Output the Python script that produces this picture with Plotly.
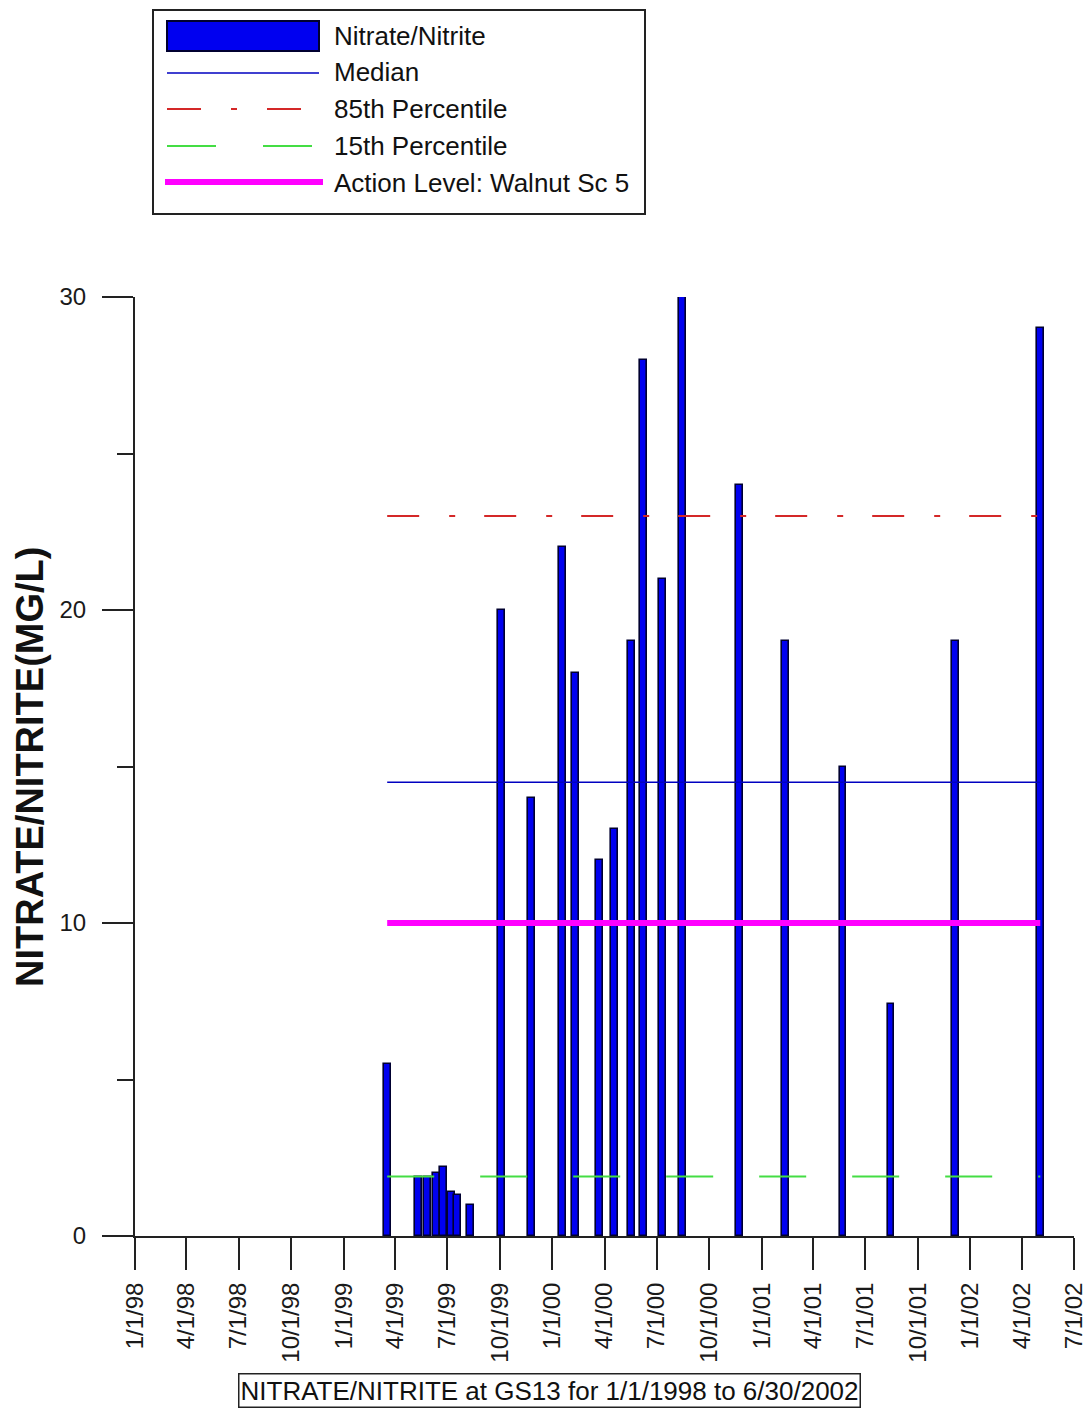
import plotly.graph_objects as go
import pandas as pd

# ---------------- data ----------------
sample_dates = ["1999-03-18", "1999-05-11", "1999-05-27", "1999-06-12", "1999-06-24",
                "1999-07-08", "1999-07-19", "1999-08-10", "1999-10-04", "1999-11-25",
                "2000-01-18", "2000-02-10", "2000-03-23", "2000-04-18", "2000-05-18",
                "2000-06-08", "2000-07-11", "2000-08-15", "2000-11-23", "2001-02-12",
                "2001-05-23", "2001-08-15", "2001-12-06", "2002-05-03"]
nitrate_values = [5.5, 1.9, 1.9, 2.0, 2.2, 1.4, 1.3, 1.0, 20, 14, 22, 18, 12, 13,
                  19, 28, 21, 30, 24, 19, 15, 7.4, 19, 29]
median_value = 14.5
p85_value = 23.0
p15_value = 1.9
action_level = 10.0

tick_labels = ["1/1/98", "4/1/98", "7/1/98", "10/1/98", "1/1/99", "4/1/99", "7/1/99",
               "10/1/99", "1/1/00", "4/1/00", "7/1/00", "10/1/00", "1/1/01", "4/1/01",
               "7/1/01", "10/1/01", "1/1/02", "4/1/02", "7/1/02"]
y_ticks = [0, 10, 20, 30]

legend_names = ["Nitrate/Nitrite", "Median", "85th Percentile", "15th Percentile",
                "Action Level: Walnut Sc 5"]
y_title = "NITRATE/NITRITE(MG/L)"
bottom_title = "NITRATE/NITRITE at GS13 for 1/1/1998 to 6/30/2002"

# ---------------- figure ----------------
FONT = "Liberation Sans, Arial, sans-serif"
W_FIG, H_FIG = 1088, 1408
PL, PR, PT, PB = 135, 1074, 297, 1236


def px(x):
    return (x - PL) / (PR - PL)


def py(y):
    return (PB - y) / (PB - PT)


dates = pd.to_datetime(sample_dates)
tick_vals = pd.to_datetime(tick_labels, format="%m/%d/%y")
span = [dates.min(), dates.max()]
bar_width_ms = 12 * 24 * 3600 * 1000

fig = go.Figure()
fig.add_trace(go.Bar(x=dates, y=nitrate_values, width=bar_width_ms,
                     marker=dict(color="#0000F0", line=dict(color="#000030", width=1.6)),
                     name=legend_names[0], showlegend=False))
fig.add_trace(go.Scatter(x=span, y=[median_value] * 2, mode="lines",
                         line=dict(color="#0000C0", width=1.5),
                         name=legend_names[1], showlegend=False))
fig.add_trace(go.Scatter(x=span, y=[p85_value] * 2, mode="lines",
                         line=dict(color="#D42828", width=2, dash="32px,30px,6px,29px"),
                         name=legend_names[2], showlegend=False))
fig.add_trace(go.Scatter(x=span, y=[p15_value] * 2, mode="lines",
                         line=dict(color="#44DD44", width=2, dash="47px,46px"),
                         name=legend_names[3], showlegend=False))
fig.add_trace(go.Scatter(x=span, y=[action_level] * 2, mode="lines",
                         line=dict(color="#FF00FF", width=6),
                         name=legend_names[4], showlegend=False))

fig.update_layout(
    width=W_FIG, height=H_FIG,
    margin=dict(l=PL, r=W_FIG - PR, t=PT, b=H_FIG - PB, pad=0, autoexpand=False),
    paper_bgcolor="white", plot_bgcolor="white",
    font=dict(family=FONT, size=24, color="#1a1a1a"),
    showlegend=False,
    bargap=0,
)
fig.update_xaxes(
    type="date", range=[tick_vals[0], tick_vals[-1]], automargin=False,
    tickmode="array", tickvals=tick_vals, ticktext=tick_labels,
    tickangle=-90, ticks="outside", ticklen=32, tickwidth=2, tickcolor="#222",
    ticklabelstandoff=3,
    showline=True, linecolor="#222", linewidth=2, showgrid=False, zeroline=False,
    tickfont=dict(size=24, family=FONT),
)
fig.update_yaxes(
    range=[0, 30], tickmode="array", tickvals=y_ticks, automargin=False,
    ticks="outside", ticklen=31, tickwidth=2, tickcolor="#222",
    ticklabelstandoff=11,
    minor=dict(dtick=5, ticks="outside", ticklen=16, tickwidth=2, tickcolor="#222"),
    showline=True, linecolor="#222", linewidth=2, showgrid=False, zeroline=False,
    tickfont=dict(size=24, family=FONT),
)

# y-axis title
fig.add_annotation(text="<b>" + y_title + "</b>", xref="paper", yref="paper",
                   x=px(30), y=py(767),
                   xanchor="center", yanchor="middle", textangle=-90, showarrow=False,
                   font=dict(size=38, family=FONT, color="#111"))
# bottom title box
fig.add_annotation(text=bottom_title, xref="paper", yref="paper", x=px(549), y=py(1390),
                   xanchor="center", yanchor="middle", showarrow=False,
                   bordercolor="#222", borderwidth=1.5, borderpad=1, bgcolor="white",
                   font=dict(size=26, family=FONT, color="#111"))

# ---------------- manual legend ----------------
shapes = []
shapes.append(dict(type="rect", xref="paper", yref="paper", x0=px(153), x1=px(645),
                   y0=py(10), y1=py(214), line=dict(color="#222", width=2),
                   fillcolor="white", layer="above"))
shapes.append(dict(type="rect", xref="paper", yref="paper", x0=px(167), x1=px(319),
                   y0=py(21), y1=py(51), line=dict(color="#000030", width=2),
                   fillcolor="#0000F0", layer="above"))
shapes.append(dict(type="line", xref="paper", yref="paper", x0=px(167), x1=px(319),
                   y0=py(73), y1=py(73), line=dict(color="#0000C0", width=1.5),
                   layer="above"))
shapes.append(dict(type="line", xref="paper", yref="paper", x0=px(167), x1=px(301),
                   y0=py(109), y1=py(109),
                   line=dict(color="#D42828", width=2, dash="34px,30px,6px,30px"),
                   layer="above"))
shapes.append(dict(type="line", xref="paper", yref="paper", x0=px(167), x1=px(312),
                   y0=py(146), y1=py(146),
                   line=dict(color="#44DD44", width=2, dash="49px,47px"), layer="above"))
shapes.append(dict(type="line", xref="paper", yref="paper", x0=px(165), x1=px(323),
                   y0=py(182), y1=py(182), line=dict(color="#FF00FF", width=6),
                   layer="above"))
fig.update_layout(shapes=shapes)

row_y = [36, 72, 109, 146, 183]
for name, ry in zip(legend_names, row_y):
    fig.add_annotation(text=name, xref="paper", yref="paper", x=px(332), y=py(ry),
                       xanchor="left", yanchor="middle", showarrow=False,
                       font=dict(size=26, family=FONT, color="#111"))

fig.write_html("out.html",
               config={"displayModeBar": False},
               post_script="document.body.style.margin='0px';"
                           "document.body.style.overflow='hidden';")
